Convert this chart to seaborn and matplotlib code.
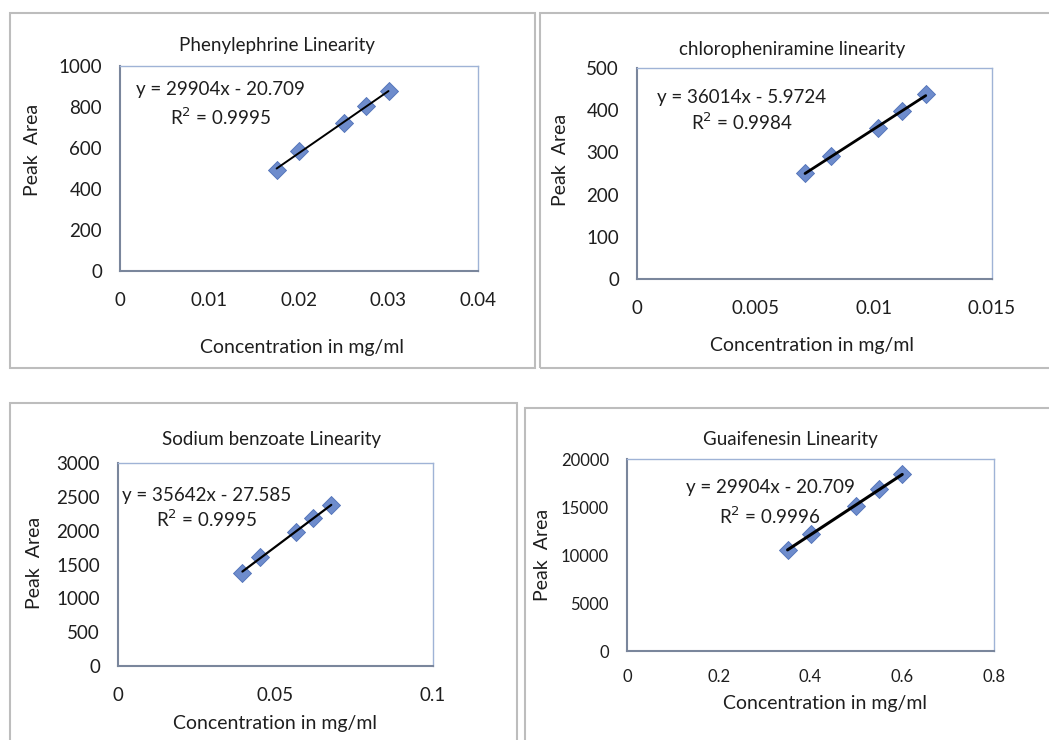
import matplotlib
matplotlib.use("Agg")
import matplotlib.pyplot as plt
from matplotlib.patches import Rectangle
import numpy as np
import pandas as pd
import seaborn as sns

sns.set_theme(style="white")
plt.rcParams['font.family'] = ['Lato', 'DejaVu Sans']

# data
phe_conc = [0.0175, 0.020, 0.025, 0.0275, 0.030]
phe_area = [495, 583, 722, 806, 876]
chl_conc = [0.0071, 0.0082, 0.0102, 0.0112, 0.0122]
chl_area = [251, 291, 358, 397, 438]
sod_conc = [0.0395, 0.045, 0.0564, 0.0619, 0.0677]
sod_area = [1377, 1613, 1983, 2180, 2377]
gua_conc = [0.35, 0.40, 0.50, 0.55, 0.60]
gua_area = [10500, 12200, 15100, 16900, 18400]

titles = ["Phenylephrine Linearity", "chloropheniramine linearity",
          "Sodium benzoate Linearity", "Guaifenesin Linearity"]
equations = ["y = 29904x - 20.709", "y = 36014x - 5.9724",
             "y = 35642x - 27.585", "y = 29904x - 20.709"]
r2_labels = ["R$^2$ = 0.9995", "R$^2$ = 0.9984", "R$^2$ = 0.9995", "R$^2$ = 0.9996"]
xlims = [(0, 0.04), (0, 0.015), (0, 0.1), (0, 0.8)]
ylims = [(0, 1000), (0, 500), (0, 3000), (0, 20000)]
xticks = [[0, 0.01, 0.02, 0.03, 0.04], [0, 0.005, 0.01, 0.015], [0, 0.05, 0.1], [0, 0.2, 0.4, 0.6, 0.8]]
xticklabels = [["0", "0.01", "0.02", "0.03", "0.04"], ["0", "0.005", "0.01", "0.015"],
               ["0", "0.05", "0.1"], ["0", "0.2", "0.4", "0.6", "0.8"]]
yticks = [np.arange(0, 1001, 200), np.arange(0, 501, 100), np.arange(0, 3001, 500), np.arange(0, 20001, 5000)]

W, H = 1049, 740
fig = plt.figure(figsize=(W / 100, H / 100), dpi=100)
txt = "#1e1e1e"

def fx(px):
    return px / W

def fy(py):
    return 1 - py / H

# chart area frames (x0, y0, x1, y1) in pixels
frames = [(10, 13, 535, 368), (540, 13, 1060, 368), (10, 403, 517, 760), (525, 408, 1060, 760)]
for x0, y0, x1, y1 in frames:
    fig.patches.append(Rectangle((fx(x0), fy(y1)), fx(x1 - x0), (y1 - y0) / H,
                                 transform=fig.transFigure, fill=False,
                                 edgecolor="#bdbdbd", linewidth=1.5))

# plot areas (left, top, right, bottom) in pixels
boxes = [(120, 66, 478, 271), (637, 68, 992, 279), (118, 463, 433, 666), (627, 459, 994, 651)]
eq_pos = [(0.28, 0.883, 0.75), (0.295, 0.862, 0.744), (0.282, 0.842, 0.724), (0.39, 0.849, 0.703)]
title_pos = [(277, 45), (792, 50), (272, 439), (790, 439)]
ylab_pos = [(33, 150), (560, 160), (35, 563), (542, 555)]
xlab_pos = [(302, 347), (812, 345), (275, 723), (825, 703)]
tick_fs = [13.5, 13.5, 13.5, 12]
line_w = [1.4, 2.0, 1.6, 2.2]

series = [(phe_conc, phe_area), (chl_conc, chl_area), (sod_conc, sod_area), (gua_conc, gua_area)]

for i, (conc, area) in enumerate(series):
    l, t, r, b = boxes[i]
    ax = fig.add_axes([fx(l), fy(b), fx(r - l), (b - t) / H])
    df = pd.DataFrame({"conc": conc, "area": area})
    sns.regplot(data=df, x="conc", y="area", ax=ax, ci=None, marker="D",
                scatter_kws={"s": 85, "color": "#4a6fc0", "edgecolor": "#3a5fae", "linewidths": 0.6, "zorder": 2},
                line_kws={"color": "black", "linewidth": line_w[i], "zorder": 3})
    ax.set_xlim(*xlims[i])
    ax.set_ylim(*ylims[i])
    ax.set_xticks(xticks[i])
    ax.set_xticklabels(xticklabels[i])
    ax.set_yticks(yticks[i])
    ax.set_xlabel("")
    ax.set_ylabel("")
    ax.tick_params(axis="both", length=0, labelsize=tick_fs[i], colors=txt)
    ax.tick_params(axis="x", pad=15 if i < 3 else 13)
    ax.tick_params(axis="y", pad=13)
    for side in ["top", "right"]:
        ax.spines[side].set_color("#9fb3d6")
        ax.spines[side].set_linewidth(1.0)
    for side in ["left", "bottom"]:
        ax.spines[side].set_color("#7a869c")
        ax.spines[side].set_linewidth(1.5)
    cx, ey, ry = eq_pos[i]
    ax.text(cx, ey, equations[i], transform=ax.transAxes, ha="center", va="center", fontsize=13.5, color=txt)
    ax.text(cx, ry, r2_labels[i], transform=ax.transAxes, ha="center", va="center", fontsize=13.5, color=txt)

    tx, ty = title_pos[i]
    fig.text(fx(tx), fy(ty), titles[i], ha="center", va="center", fontsize=13.5, color=txt)
    yx, yy = ylab_pos[i]
    fig.text(fx(yx), fy(yy), "Peak  Area", ha="center", va="center", rotation=90, fontsize=14, color=txt)
    lx, ly = xlab_pos[i]
    fig.text(fx(lx), fy(ly), "Concentration in mg/ml", ha="center", va="center", fontsize=14, color=txt)

fig.savefig("out.png", dpi=100)
